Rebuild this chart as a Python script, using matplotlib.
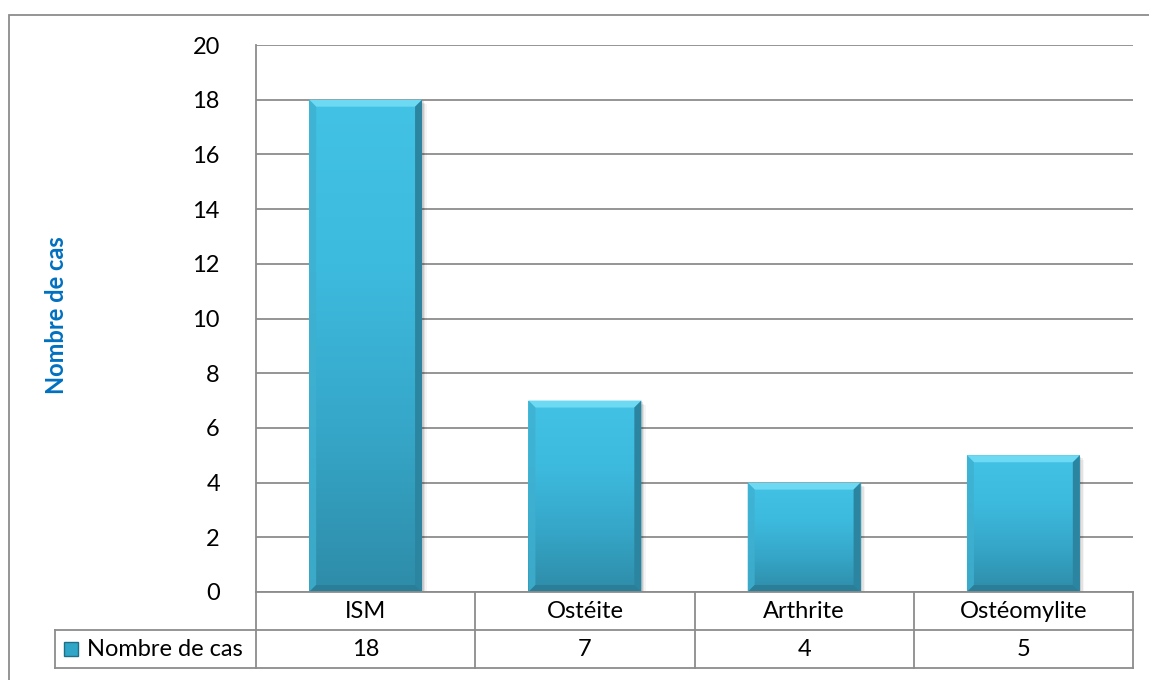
import numpy as np
import matplotlib
matplotlib.use("Agg")
import matplotlib.pyplot as plt
from matplotlib.patches import Rectangle, Polygon
from matplotlib.colors import LinearSegmentedColormap
import matplotlib.transforms as mtransforms

# data
categories = ["ISM", "Ostéite", "Arthrite", "Ostéomylite"]
values = [18, 7, 4, 5]
series_name = "Nombre de cas"
y_ticks = [0, 2, 4, 6, 8, 10, 12, 14, 16, 18, 20]

plt.rcParams['font.family'] = ['Lato', 'DejaVu Sans']
grid_col = "#8c8c8c"
fs = 17

fig = plt.figure(figsize=(11.49, 6.80), dpi=100)
ax = fig.add_axes([256/1149, 88/680, 877/1149, 547/680])

x = np.arange(len(categories))
w = 0.515
ax.set_yticks(y_ticks)
ax.set_yticklabels([str(t) for t in y_ticks], fontsize=fs)
ax.tick_params(axis='y', length=0, pad=26)
ax.set_xticks([])
for s in ["top", "right", "bottom"]:
    ax.spines[s].set_visible(False)
ax.spines["left"].set_color(grid_col)
ax.spines["left"].set_linewidth(1.3)
for t in y_ticks:
    ax.axhline(t, color=grid_col, lw=1.3, zorder=1)

ax.set_ylabel(series_name, color="#0070C0", fontsize=17, fontweight="bold")
ax.yaxis.set_label_coords(-0.2144, 0.506)

bars = ax.bar(x, values, width=w, color="#3AB6DA", zorder=3, edgecolor="none")

cmap = LinearSegmentedColormap.from_list("b", ["#2E8CA8", "#36A7C9", "#3DBBDF", "#42C2E4"])
grad = np.linspace(0, 1, 256).reshape(-1, 1)
dx = 7 / 219.25
dy = 7 / 27.35
for b in bars:
    x0, y0 = b.get_x(), b.get_y()
    x1, y1 = x0 + b.get_width(), y0 + b.get_height()
    # soft shadow
    for k, a in enumerate([0.10, 0.07, 0.04]):
        off = (k + 1) * 1.5
        ax.add_patch(Rectangle((x0 + off / 219.25, y0 - off / 27.35), x1 - x0, y1 - y0,
                               color="black", alpha=a, zorder=2, lw=0))
    im = ax.imshow(grad, extent=[x0, x1, y0, y1], origin="lower", aspect="auto",
                   cmap=cmap, zorder=4)
    im.set_clip_path(b)
    ax.add_patch(Polygon([(x0, y1), (x1, y1), (x1 - dx, y1 - dy), (x0 + dx, y1 - dy)],
                         color="#6ED9F2", lw=0, zorder=5))
    ax.add_patch(Polygon([(x1, y1), (x1, y0), (x1 - dx, y0 + dy), (x1 - dx, y1 - dy)],
                         color="#2B85A0", lw=0, zorder=5))
    ax.add_patch(Polygon([(x0, y1), (x0, y0), (x0 + dx, y0 + dy), (x0 + dx, y1 - dy)],
                         color="#3FB0D0", lw=0, zorder=5, alpha=0.8))
    ax.add_patch(Polygon([(x0, y0), (x1, y0), (x1 - dx, y0 + dy), (x0 + dx, y0 + dy)],
                         color="#2A7E98", lw=0, zorder=5))
ax.set_xlim(-0.5, len(categories) - 0.5)
ax.set_ylim(0, 20)

# data table
blend = mtransforms.blended_transform_factory(ax.transData, ax.transAxes)
row_h = 38 / 547
r1, r2 = -row_h, -2 * row_h
lx = -0.5 - 201 / 219.25
kw = dict(color=grid_col, lw=1.3, transform=blend, clip_on=False, zorder=6)
ax.plot([-0.5, len(categories) - 0.5], [0, 0], **kw)
ax.plot([lx, len(categories) - 0.5], [r1, r1], **kw)
ax.plot([lx, len(categories) - 0.5], [r2, r2], **kw)
ax.plot([lx, lx], [r1, r2], **kw)
ax.plot([-0.5, -0.5], [0, r2], **kw)
for i in range(len(categories)):
    ax.plot([i + 0.5, i + 0.5], [0, r2], **kw)
for i, (c, v) in enumerate(zip(categories, values)):
    ax.text(i, r1 / 2, c, transform=blend, ha="center", va="center", fontsize=fs)
    ax.text(i, (r1 + r2) / 2, str(v), transform=blend, ha="center", va="center", fontsize=fs)
ax.add_patch(Rectangle((lx + 9 / 219.25, (r1 + r2) / 2 - 7 / 547), 14 / 219.25, 14 / 547,
                       transform=blend, clip_on=False, facecolor="#2FA6C8",
                       edgecolor="#1E6F86", lw=1, zorder=6))
ax.text(lx + 32 / 219.25, (r1 + r2) / 2, series_name, transform=blend, ha="left",
        va="center", fontsize=fs)

# outer frame
fig.add_artist(Rectangle((9 / 1149, -0.05), 1.2, 0.05 + 665 / 680, transform=fig.transFigure,
                         fill=False, edgecolor=grid_col, lw=1.3))

fig.savefig("out.png", dpi=100)
